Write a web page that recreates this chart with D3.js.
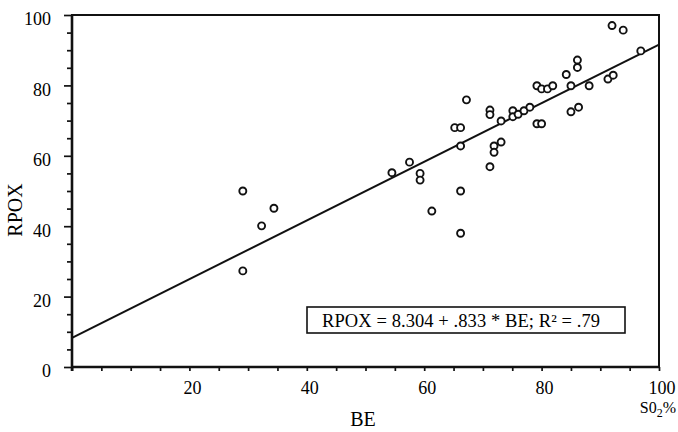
<!DOCTYPE html>
<html>
<head>
<meta charset="utf-8">
<script src="https://cdn.jsdelivr.net/npm/d3@7/dist/d3.min.js"></script>
<style>
  body { margin: 0; background: #fff; }
  text { font-family: "Liberation Serif", "DejaVu Serif", serif; fill: #000; }
</style>
</head>
<body>
<div id="chart"></div>
<script>
// Scatter of RPOX against BE with fitted regression line

// data
let be   = [29.1, 29.1, 32.3, 34.4, 54.5, 57.5, 59.3, 59.3, 61.3, 65.2, 66.2, 67.2, 66.2, 66.2, 66.2,
            71.2, 71.2, 71.2, 71.9, 71.9, 73.1, 73.1, 75.1, 75.1, 76.0, 77.0, 78.0, 79.2, 80.0, 81.0,
            81.9, 79.2, 80.0, 84.2, 85.0, 86.1, 86.1, 85.0, 86.3, 88.1, 91.3, 92.2, 92.0, 93.9, 96.9];
let rpox = [50.0, 27.3, 40.1, 45.1, 55.2, 58.2, 55.0, 53.1, 44.3, 68.0, 68.0, 75.9, 62.8, 50.0, 38.0,
            73.0, 71.7, 56.9, 62.8, 61.0, 63.9, 69.9, 72.8, 71.1, 71.8, 72.8, 73.8, 79.9, 79.0, 79.0,
            79.9, 69.1, 69.1, 83.1, 79.9, 87.2, 85.1, 72.5, 73.8, 79.9, 81.8, 82.9, 97.0, 95.7, 89.8];

// regression: intercept, slope
let fit = [8.304, 0.833];
let xTicks = [20, 40, 60, 80, 100];
let yTicks = [0, 20, 40, 60, 80, 100];

let W = 678, H = 432;
let pLeft = 72, pRight = 659, pTop = 15, pBottom = 367;

let xScale = d3.scaleLinear().domain([0, 100]).range([pLeft, pRight]);
let yScale = d3.scaleLinear().domain([0, 100]).range([pBottom, pTop]);

let svg = d3.select('#chart').append('svg')
  .attr('width', W)
  .attr('height', H);

// minor ticks every 5
let minor = d3.range(0, 101, 5);

let xAxis = d3.axisBottom(xScale)
  .tickValues(minor)
  .tickSize(4)
  .tickFormat('');
svg.append('g')
  .attr('transform', 'translate(0,' + pBottom + ')')
  .call(xAxis)
  .call(g => g.select('.domain').remove())
  .call(g => g.selectAll('line').attr('stroke', '#111').attr('stroke-width', 1.7));

let yAxis = d3.axisLeft(yScale)
  .tickValues(minor)
  .tickSize(5)
  .tickFormat('');
svg.append('g')
  .attr('transform', 'translate(' + pLeft + ',0)')
  .call(yAxis)
  .call(g => g.select('.domain').remove())
  .call(g => g.selectAll('line')
    .attr('stroke', '#111').attr('stroke-width', 1.7)
    .attr('x2', d => d % 20 == 0 ? -8 : -5));

// frame
svg.append('rect')
  .attr('x', pLeft).attr('y', pTop)
  .attr('width', pRight - pLeft).attr('height', pBottom - pTop)
  .attr('fill', 'none')
  .attr('stroke', '#111')
  .attr('stroke-width', 2);
svg.append('line')
  .attr('x1', pLeft).attr('x2', pLeft).attr('y1', pTop).attr('y2', pBottom + 4)
  .attr('stroke', '#111').attr('stroke-width', 2.6);
svg.append('line')
  .attr('x1', pLeft - 1).attr('x2', pRight).attr('y1', pBottom).attr('y2', pBottom)
  .attr('stroke', '#111').attr('stroke-width', 2.6);

// tick labels
svg.selectAll('.xlab')
  .data(xTicks)
  .enter().append('text')
  .attr('class', 'xlab')
  .attr('x', d => xScale(d) + 3)
  .attr('y', 394)
  .attr('text-anchor', 'middle')
  .style('font-size', '18px')
  .text(d => d);

svg.selectAll('.ylab')
  .data(yTicks)
  .enter().append('text')
  .attr('class', 'ylab')
  .attr('x', 51)
  .attr('y', d => yScale(d) + 4)
  .attr('dy', '0.35em')
  .attr('text-anchor', 'end')
  .style('font-size', '18px')
  .text(d => d);

// axis titles
svg.append('text')
  .attr('transform', 'translate(22,210) rotate(-90)')
  .attr('text-anchor', 'middle')
  .style('font-size', '20px')
  .text('RPOX');

svg.append('text')
  .attr('x', 363)
  .attr('y', 426)
  .attr('text-anchor', 'middle')
  .style('font-size', '20px')
  .text('BE');

let so2 = svg.append('text')
  .attr('x', 676)
  .attr('y', 413)
  .attr('text-anchor', 'end')
  .style('font-size', '16px');
so2.append('tspan').text('S0');
so2.append('tspan').attr('dy', 4).style('font-size', '12px').text('2');
so2.append('tspan').attr('dy', -4).text('%');

// regression line
let line = d3.line()
  .x(d => xScale(d))
  .y(d => yScale(fit[0] + fit[1] * d));
svg.append('path')
  .datum([0, 100])
  .attr('d', line)
  .attr('fill', 'none')
  .attr('stroke', '#111')
  .attr('stroke-width', 2);

// points
svg.selectAll('.dot')
  .data(be)
  .enter().append('circle')
  .attr('class', 'dot')
  .attr('cx', d => xScale(d))
  .attr('cy', (d, i) => yScale(rpox[i]))
  .attr('r', 3.5)
  .attr('fill', '#fff')
  .attr('stroke', '#111')
  .attr('stroke-width', 1.9);

// equation box
svg.append('rect')
  .attr('x', 307).attr('y', 307)
  .attr('width', 318).attr('height', 26)
  .attr('fill', '#fff')
  .attr('stroke', '#111')
  .attr('stroke-width', 1.6);
svg.append('text')
  .attr('x', 322)
  .attr('y', 327)
  .attr('textLength', 278)
  .style('font-size', '18.5px')
  .text('RPOX = ' + fit[0] + ' + .' + String(fit[1]).split('.')[1] + ' * BE; R² = .79');
</script>
</body>
</html>
